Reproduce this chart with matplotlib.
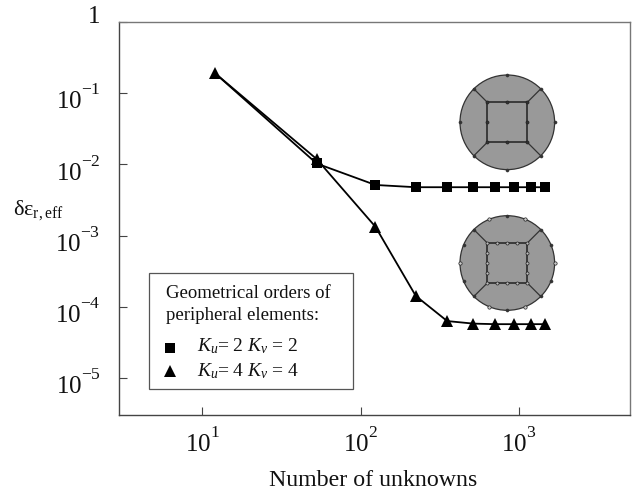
import numpy as np
import matplotlib
matplotlib.use("Agg")
import matplotlib.pyplot as plt
import matplotlib._mathtext as mt
from matplotlib.patches import Circle, Rectangle
from matplotlib.transforms import Affine2D

W, H, DPI = 635, 491, 100
SERIF = "Liberation Serif"
plt.rcParams["font.family"] = [SERIF, "DejaVu Serif"]
plt.rcParams["mathtext.fontset"] = "custom"
plt.rcParams["mathtext.rm"] = SERIF
plt.rcParams["mathtext.it"] = SERIF + ":italic"
plt.rcParams["mathtext.bf"] = SERIF + ":bold"
# the reference sets its exponents higher and tighter than mathtext does by default
mt.FontConstantsBase.sup1 = 1.12
mt.FontConstantsBase.script_space = 0.0
mt.FontConstantsBase.delta = 0.0

# ---- data -------------------------------------------------------
unknowns_k2 = [12, 52.7, 124, 223, 352, 516, 708, 926, 1183, 1466]
error_k2 = [0.192, 0.0103, 0.00514, 0.00478, 0.00478, 0.00478, 0.00478, 0.00478, 0.00478, 0.00478]
unknowns_k4 = [12, 52.7, 124, 223, 352, 516, 708, 926, 1183, 1466]
error_k4 = [0.192, 0.0119, 0.00133, 0.000142, 6.3e-05, 5.8e-05, 5.7e-05, 5.7e-05, 5.7e-05, 5.7e-05]
x_ticks = [10, 100, 1000]
x_tick_labels = [r"$\mathregular{10^{1}}$", r"$\mathregular{10^{2}}$", r"$\mathregular{10^{3}}$"]
y_ticks = [1, 1e-1, 1e-2, 1e-3, 1e-4, 1e-5]
y_tick_labels = ["1", r"$\mathregular{10^{-1}}$", r"$\mathregular{10^{-2}}$",
                 r"$\mathregular{10^{-3}}$", r"$\mathregular{10^{-4}}$", r"$\mathregular{10^{-5}}$"]
x_label = "Number of unknowns"
legend_title = ["Geometrical orders of", "peripheral elements:"]
legend_k2 = r"$K_{u}$= 2 $K_{v}$ = 2"
legend_k4 = r"$K_{u}$= 4 $K_{v}$ = 4"

# mesh geometry (unit circle, inner square half-width)
inner_half = 0.423
node_angles_k2 = [0, 45, 90, 135, 180, 225, 270, 315]
node_angles_k4_filled = [22.5, 45, 90, 135, 157.5, 202.5, 225, 270, 315, 337.5]
node_angles_k4_open = [0, 67.5, 112.5, 180, 247.5, 292.5]
square_steps_k2 = [-1, 0, 1]
square_steps_k4 = [-1, -0.5, 0, 0.5, 1]

# ---- main axes --------------------------------------------------
fig = plt.figure(figsize=(W / DPI, H / DPI), dpi=DPI)
L, R, T, B = 118.5, 629.7, 22, 415
ax = fig.add_axes([L / W, 1 - B / H, (R - L) / W, (B - T) / H])
ax.set_xscale("log")
ax.set_yscale("log")
ax.set_xlim(10 ** 0.471, 10 ** 3.699)
ax.set_ylim(10 ** -5.52, 1)

ax.plot(unknowns_k2, error_k2, "-s", color="black", lw=1.3, ms=6.8, mew=0, markevery=(1, 1))
ax.plot(unknowns_k4, error_k4, "-^", color="black", lw=1.3, ms=8, mew=0)

for side, col in (("left", "#444444"), ("bottom", "#444444"), ("top", "#777777"), ("right", "#777777")):
    ax.spines[side].set_color(col)
    ax.spines[side].set_linewidth(1.0)

ax.set_xticks(x_ticks)
ax.set_xticklabels(x_tick_labels, fontsize=18)
ax.set_yticks(y_ticks)
ax.set_yticklabels(y_tick_labels, fontsize=18)
ax.minorticks_off()
ax.tick_params(axis="both", which="major", direction="in", length=6, width=0.8, color="#444444", labelcolor="#111111")
ax.tick_params(axis="x", pad=9)
ax.tick_params(axis="y", pad=13)
for i, lab in enumerate(ax.get_yticklabels()):
    lab.set_transform(lab.get_transform() + Affine2D().translate(0, 7 if i == 0 else -4))

# pixel coordinates measured from the top-left of the picture
px = Affine2D().scale(1, -1).translate(0, H)

def label(x, y, s, size, ha="left", va="baseline"):
    fig.text(x, y, s, transform=px, fontsize=size, ha=ha, va=va, color="#111111")

label(373.5, 486, x_label, 17.2, ha="center")
label(13, 215, r"$\mathregular{\delta\varepsilon_{r,eff}}$", 16)

# ---- legend box -------------------------------------------------
fig.add_artist(Rectangle((149.3, 273.3), 203.4, 116, transform=px, fill=True, fc="white",
                         ec="#555555", lw=0.9, zorder=3))
def ltext(x, y, s, size=13.5):
    fig.text(x, y, s, transform=px, fontsize=size, color="#111111", zorder=4)
ltext(165.7, 298, legend_title[0])
ltext(165.7, 320, legend_title[1])
ltext(196.7, 351.5, legend_k2, 14)
ltext(196.7, 376.5, legend_k4, 14)
fig.add_artist(plt.Line2D([170], [348], transform=px, marker="s", ms=7.2, color="black", mew=0, zorder=4))
fig.add_artist(plt.Line2D([170], [371], transform=px, marker="^", ms=8, color="black", mew=0, zorder=4))

# ---- meshes -----------------------------------------------------
def mesh(cx, cy, r, steps, ang_filled, ang_open, square_marker, square_face):
    a = fig.add_axes([(cx - r - 3) / W, 1 - (cy + r + 3) / H, (2 * r + 6) / W, (2 * r + 6) / H])
    a.set_xlim(-(r + 3) / r, (r + 3) / r)
    a.set_ylim(-(r + 3) / r, (r + 3) / r)
    a.axis("off")
    a.patch.set_alpha(0)
    a.add_patch(Circle((0, 0), 1, fc="#999999", ec="#333333", lw=0.9))
    h = inner_half
    a.plot([-h, h, h, -h, -h], [h, h, -h, -h, h], color="#222222", lw=1.1)
    c = np.cos(np.pi / 4)
    for sx in (-1, 1):
        for sy in (-1, 1):
            a.plot([sx * h, sx * c], [sy * h, sy * c], color="#333333", lw=0.9)
    sx = [h * s for s in steps for t in steps if abs(s) == 1 or abs(t) == 1]
    sy = [h * t for s in steps for t in steps if abs(s) == 1 or abs(t) == 1]
    a.plot(sx, sy, ls="", marker=square_marker, ms=2.2, mfc=square_face, mec="#222222", mew=0.5)
    th = np.radians(ang_filled)
    a.plot(np.cos(th), np.sin(th), ls="", marker="o", ms=2.2, mfc="#333333", mec="#333333", mew=0.4)
    if ang_open:
        th = np.radians(ang_open)
        a.plot(np.cos(th), np.sin(th), ls="", marker="o", ms=2.4, mfc="#cccccc", mec="#222222", mew=0.5)

mesh(507.3, 122.3, 47.3, square_steps_k2, node_angles_k2, [], "o", "#333333")
mesh(507.3, 263, 47.3, square_steps_k4, node_angles_k4_filled, node_angles_k4_open, "o", "#bbbbbb")

fig.savefig("out.png", dpi=DPI)
